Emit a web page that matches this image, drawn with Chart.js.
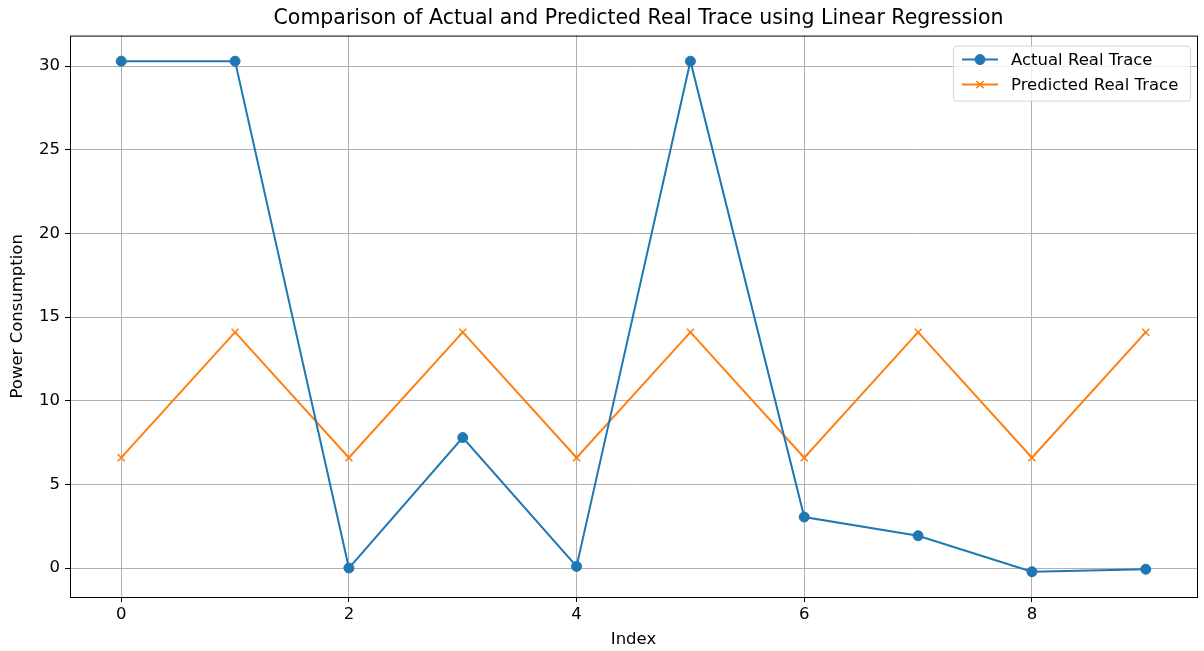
<!DOCTYPE html>
<html>
<head>
<meta charset="utf-8">
<script src="https://cdn.jsdelivr.net/npm/chart.js@4"></script>
<style>
  html, body { margin: 0; padding: 0; background: #fff; }
  #wrap { width: 1204px; height: 651px; }
</style>
</head>
<body>
<div id="wrap"><canvas id="traceChart" width="1204" height="651"></canvas></div>
<script>
// data
const indices = [0, 1, 2, 3, 4, 5, 6, 7, 8, 9];
const actualTrace = [30.3, 30.3, 0.0, 7.8, 0.1, 30.3, 3.05, 1.93, -0.22, -0.07];
const predictedTrace = [6.6, 14.1, 6.6, 14.1, 6.6, 14.1, 6.6, 14.1, 6.6, 14.1];
const xTicks = [0, 2, 4, 6, 8];
const yTicks = [0, 5, 10, 15, 20, 25, 30];

const FONT = "'DejaVu Sans', sans-serif";
const BLUE = '#1f77b4';
const ORANGE = '#ff7f0e';
const FS = 16.5;

function toPoints(values) {
    return values.map((v, i) => ({ x: indices[i], y: v }));
}

// legend drawn inside the plot, upper right, matplotlib-like
const insideLegend = {
    id: 'insideLegend',
    afterDraw(chart) {
        const ctx = chart.ctx;
        const area = chart.chartArea;
        const boxW = 237, boxH = 55;
        const bx = area.right - 7 - boxW;
        const by = area.top + 10;
        ctx.save();
        ctx.fillStyle = 'rgba(255,255,255,0.8)';
        ctx.strokeStyle = '#d6d6d6';
        ctx.lineWidth = 1;
        ctx.beginPath();
        ctx.roundRect(bx + 0.5, by + 0.5, boxW, boxH, 3);
        ctx.fill();
        ctx.stroke();
        ctx.font = FS + 'px ' + FONT;
        ctx.textBaseline = 'middle';
        chart.data.datasets.forEach((ds, i) => {
            const y = by + 14 + i * 25;
            const x0 = bx + 9;
            ctx.strokeStyle = ds.borderColor;
            ctx.lineWidth = 2;
            ctx.beginPath();
            ctx.moveTo(x0, y);
            ctx.lineTo(x0 + 36, y);
            ctx.stroke();
            ctx.fillStyle = ds.borderColor;
            ctx.lineWidth = ds.pointBorderWidth || 1;
            Chart.helpers.drawPoint(ctx, {
                pointStyle: ds.pointStyle,
                radius: ds.pointRadius,
                borderWidth: ds.pointBorderWidth || 1
            }, x0 + 18, y);
            ctx.fillStyle = '#000';
            ctx.fillText(ds.label, x0 + 49, y + 1);
        });
        ctx.restore();
    }
};

// plot frame (spines) and title centred over the axes
const frame = {
    id: 'frame',
    afterLayout(chart) {
        const a = chart.chartArea;
        chart.titleBlock.left = a.left + 10;
        chart.titleBlock.right = a.right;
    },
    afterDraw(chart) {
        const ctx = chart.ctx;
        const a = chart.chartArea;
        ctx.save();
        ctx.strokeStyle = '#000';
        ctx.lineWidth = 1;
        ctx.strokeRect(a.left + 0.5, a.top + 0.5, a.right - a.left, a.bottom - a.top);
        ctx.restore();
    }
};

const ctx = document.getElementById('traceChart').getContext('2d');
const traceChart = new Chart(ctx, {
    type: 'line',
    data: {
        datasets: [{
            label: 'Actual Real Trace',
            data: toPoints(actualTrace),
            borderColor: BLUE,
            backgroundColor: BLUE,
            borderWidth: 2,
            pointStyle: 'circle',
            pointRadius: 5,
            pointBorderWidth: 1,
            pointBackgroundColor: BLUE,
            pointBorderColor: BLUE,
            tension: 0,
            fill: false
        }, {
            label: 'Predicted Real Trace',
            data: toPoints(predictedTrace),
            borderColor: ORANGE,
            backgroundColor: ORANGE,
            borderWidth: 2,
            pointStyle: 'crossRot',
            pointRadius: 5,
            pointBorderWidth: 1.5,
            pointBorderColor: ORANGE,
            tension: 0,
            fill: false
        }]
    },
    options: {
        responsive: false,
        animation: false,
        layout: { padding: { top: 0, right: 7, bottom: 0, left: 0 } },
        scales: {
            x: {
                type: 'linear',
                min: -0.45,
                max: 9.45,
                afterBuildTicks: axis => { axis.ticks = xTicks.map(v => ({ value: v })); },
                afterFit: axis => { axis.height = 54; },
                border: { display: false },
                grid: { color: '#b0b0b0', lineWidth: 1, tickLength: 5, tickColor: '#000' },
                ticks: { color: '#000', font: { family: FONT, size: FS }, padding: 3, maxRotation: 0 },
                title: { display: true, text: 'Index', color: '#000', font: { family: FONT, size: FS }, padding: { top: 0, bottom: 1 } }
            },
            y: {
                type: 'linear',
                min: -1.73,
                max: 31.83,
                afterBuildTicks: axis => { axis.ticks = yTicks.map(v => ({ value: v })); },
                afterFit: axis => { axis.width = 70; },
                border: { display: false },
                grid: { color: '#b0b0b0', lineWidth: 1, tickLength: 5, tickColor: '#000' },
                ticks: { color: '#000', font: { family: FONT, size: FS }, padding: 5 },
                title: { display: true, text: 'Power Consumption', color: '#000', font: { family: FONT, size: FS }, padding: { top: 8, bottom: 4 } }
            }
        },
        plugins: {
            legend: { display: false },
            tooltip: { enabled: false },
            title: {
                display: true,
                text: 'Comparison of Actual and Predicted Real Trace using Linear Regression',
                color: '#000',
                font: { family: FONT, size: 20.5, weight: 'normal' },
                padding: { top: 6, bottom: 5 }
            }
        }
    },
    plugins: [insideLegend, frame]
});
</script>
</body>
</html>
